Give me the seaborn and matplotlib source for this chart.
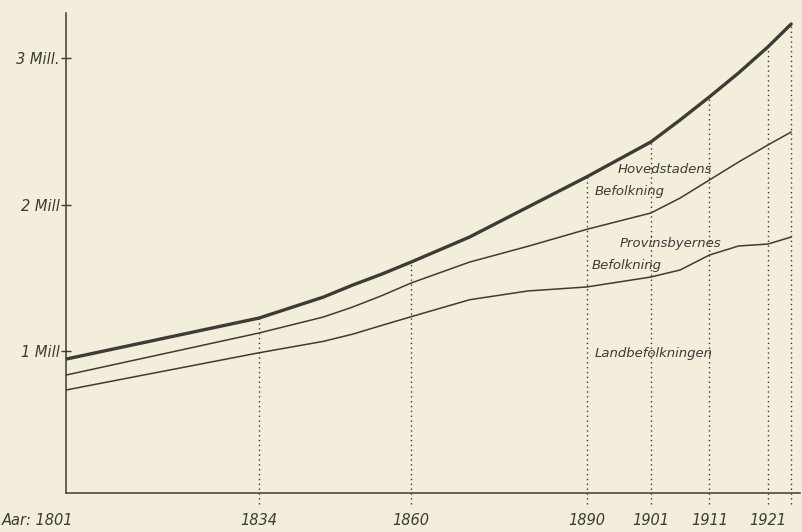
import numpy as np
import pandas as pd
import matplotlib
matplotlib.use("Agg")
import matplotlib.pyplot as plt
import seaborn as sns

# census years and population (millions)
years = [1801, 1834, 1845, 1850, 1855, 1860, 1870, 1880, 1890, 1901, 1906, 1911, 1916, 1921, 1925]
total = [0.945, 1.225, 1.368, 1.450, 1.525, 1.607, 1.778, 1.983, 2.188, 2.427, 2.577, 2.734, 2.898, 3.075, 3.232]
land_and_prov = [0.836, 1.123, 1.232, 1.300, 1.378, 1.464, 1.607, 1.715, 1.830, 1.942, 2.044, 2.167, 2.290, 2.406, 2.495]
land = [0.734, 0.988, 1.066, 1.115, 1.175, 1.234, 1.350, 1.410, 1.437, 1.505, 1.553, 1.655, 1.717, 1.730, 1.778]

marked_years = [1834, 1860, 1890, 1901, 1911, 1921, 1925]
year_labels = ["Aar: 1801", "1834", "1860", "1890", "1901", "1911", "1921"]
label_years = [1801, 1834, 1860, 1890, 1901, 1911, 1921]
y_ticks = [1, 2, 3]
y_tick_labels = ["1 Mill", "2 Mill", "3 Mill."]

bg = "#f2eedb"
ink = "#3c3b36"

sns.set_theme(style="white")
plt.rcParams["font.family"] = ["DejaVu Sans"]

df = pd.DataFrame({"year": years, "total": total, "land_prov": land_and_prov, "land": land})

fig = plt.figure(figsize=(8.02, 5.32), dpi=100, facecolor=bg)
ax = fig.add_axes([66 / 802, 39 / 532, 734 / 802, 480 / 532])
ax.set_facecolor(bg)

# dotted verticals from just below the axis up to the total curve
tot_at = np.interp(marked_years, years, total)
for yr, top in zip(marked_years, tot_at):
    ax.plot([yr, yr], [-0.045, top], linestyle=(0, (1, 2.5)), color=ink, linewidth=1.0,
            clip_on=False, zorder=1)

sns.lineplot(data=df, x="year", y="total", ax=ax, color=ink, linewidth=2.4, zorder=3)
sns.lineplot(data=df, x="year", y="land_prov", ax=ax, color=ink, linewidth=1.1, zorder=3)
sns.lineplot(data=df, x="year", y="land", ax=ax, color=ink, linewidth=1.1, zorder=3)

ax.set_xlim(1801, 1926.5)
ax.set_ylim(0.031, 3.307)

for side in ["top", "right"]:
    ax.spines[side].set_visible(False)
for side in ["left", "bottom"]:
    ax.spines[side].set_color(ink)
    ax.spines[side].set_linewidth(1.1)

ax.set_xticks([])
ax.set_yticks(y_ticks)
ax.set_yticklabels(y_tick_labels, fontstyle="italic", fontsize=10.5, color=ink)
ax.tick_params(axis="y", direction="inout", length=7, width=1.0, color=ink, pad=1, left=True)
ax.set_xlabel("")
ax.set_ylabel("")

for yr, lab in zip(label_years, year_labels):
    ha = "left" if yr == 1801 else "center"
    xpos = 1790.1 if yr == 1801 else yr
    ax.text(xpos, -0.16, lab, ha=ha, va="center", fontstyle="italic", fontsize=10.5,
            color=ink, clip_on=False)

txt = dict(fontstyle="italic", fontsize=9.5, color=ink, va="center")
ax.text(1895.4, 2.236, "Hovedstadens", ha="left", **txt)
ax.text(1891.4, 2.086, "Befolkning", ha="left", **txt)
ax.text(1895.7, 1.737, "Provinsbyernes", ha="left", **txt)
ax.text(1890.9, 1.587, "Befolkning", ha="left", **txt)
ax.text(1891.4, 0.986, "Landbefolkningen", ha="left", **txt)

fig.savefig("out.png", dpi=100, facecolor=bg)
